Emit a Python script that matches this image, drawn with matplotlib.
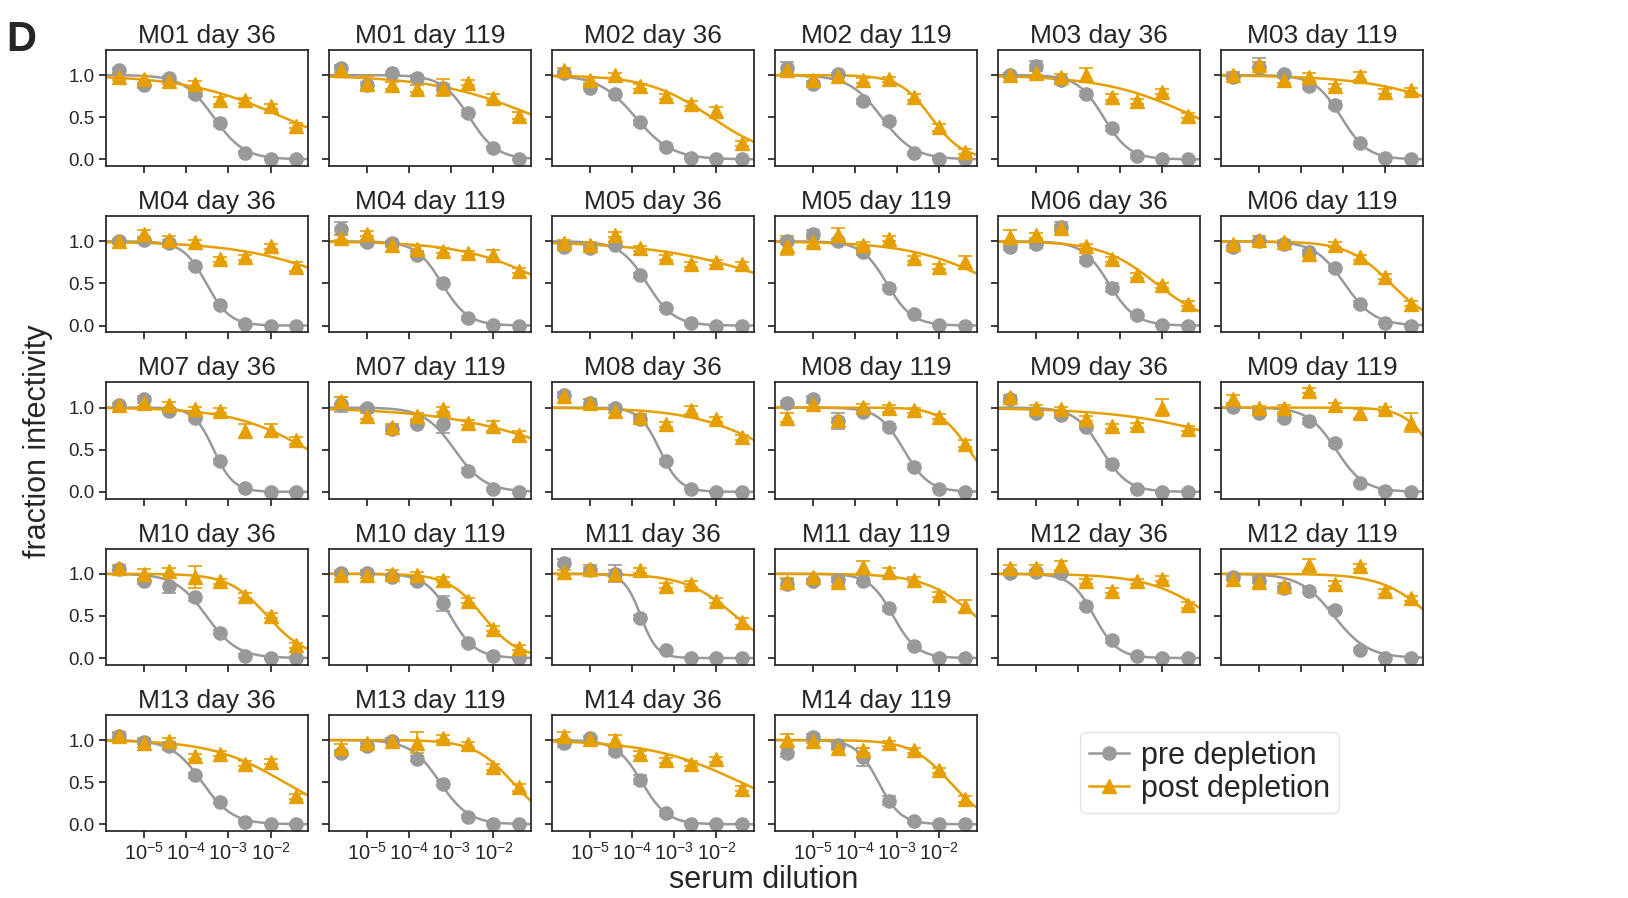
import numpy as np
import matplotlib
matplotlib.use('Agg')
import matplotlib.pyplot as plt
from matplotlib.ticker import FixedLocator, NullLocator, FormatStrFormatter

plt.rcParams['font.family'] = ['Liberation Sans', 'DejaVu Sans']
plt.rcParams['mathtext.fontset'] = 'custom'
plt.rcParams['mathtext.rm'] = 'Liberation Sans'
plt.rcParams['axes.edgecolor'] = '#262626'
plt.rcParams['axes.linewidth'] = 1.25
plt.rcParams['xtick.color'] = '#262626'
plt.rcParams['ytick.color'] = '#262626'
plt.rcParams['text.color'] = '#262626'
plt.rcParams['axes.labelcolor'] = '#262626'

# serum dilutions: 4-fold series starting at 1/25
dilutions = [1 / 409600, 1 / 102400, 1 / 25600, 1 / 6400, 1 / 1600, 1 / 400, 1 / 100, 1 / 25]
mice = ['M01', 'M02', 'M03', 'M04', 'M05', 'M06', 'M07',
        'M08', 'M09', 'M10', 'M11', 'M12', 'M13', 'M14']
days = [36, 119]

# fraction infectivity, one row per panel (M01 d36, M01 d119, M02 d36, ...)
pre = [
    [1.06, 0.88, 0.96, 0.77, 0.43, 0.08, 0.00, 0.00],
    [1.09, 0.88, 1.02, 0.97, 0.85, 0.55, 0.14, 0.00],
    [1.02, 0.85, 0.78, 0.44, 0.15, 0.02, 0.01, 0.00],
    [1.09, 0.90, 1.01, 0.69, 0.45, 0.07, 0.01, 0.00],
    [1.00, 1.11, 0.94, 0.78, 0.37, 0.04, 0.01, 0.00],
    [0.98, 1.10, 1.01, 0.87, 0.65, 0.19, 0.02, 0.00],
    [1.00, 1.02, 0.98, 0.71, 0.25, 0.02, 0.00, 0.00],
    [1.15, 0.99, 0.98, 0.84, 0.51, 0.09, 0.01, 0.00],
    [0.93, 0.92, 0.96, 0.60, 0.21, 0.03, 0.00, 0.00],
    [1.00, 1.09, 1.00, 0.87, 0.45, 0.14, 0.01, 0.00],
    [0.93, 0.97, 1.17, 0.78, 0.45, 0.12, 0.01, 0.00],
    [0.93, 1.00, 0.97, 0.87, 0.68, 0.26, 0.03, 0.00],
    [1.03, 1.10, 0.96, 0.88, 0.36, 0.04, 0.00, 0.00],
    [1.04, 0.99, 0.75, 0.81, 0.80, 0.25, 0.03, 0.00],
    [1.15, 1.06, 1.00, 0.86, 0.36, 0.03, 0.00, 0.00],
    [1.05, 1.10, 0.84, 0.95, 0.77, 0.30, 0.03, 0.00],
    [1.10, 0.93, 0.91, 0.77, 0.33, 0.03, 0.00, 0.00],
    [1.01, 0.94, 0.88, 0.84, 0.58, 0.10, 0.01, 0.00],
    [1.06, 0.91, 0.86, 0.72, 0.30, 0.03, 0.00, 0.00],
    [1.01, 1.01, 0.96, 0.91, 0.65, 0.18, 0.03, 0.00],
    [1.13, 1.04, 1.00, 0.48, 0.09, 0.00, 0.00, 0.00],
    [0.88, 0.91, 0.93, 0.92, 0.59, 0.14, 0.00, 0.00],
    [1.01, 1.02, 1.01, 0.62, 0.21, 0.03, 0.00, 0.00],
    [0.96, 0.92, 0.83, 0.80, 0.57, 0.10, 0.00, 0.00],
    [1.05, 0.98, 0.93, 0.58, 0.27, 0.03, 0.00, 0.00],
    [0.85, 0.93, 0.99, 0.78, 0.48, 0.09, 0.00, 0.00],
    [0.96, 1.02, 0.87, 0.53, 0.13, 0.00, 0.00, 0.00],
    [0.85, 1.04, 0.94, 0.80, 0.28, 0.04, 0.00, 0.00],
]
post = [
    [0.98, 0.95, 0.93, 0.89, 0.70, 0.70, 0.63, 0.40],
    [1.06, 0.90, 0.88, 0.84, 0.85, 0.91, 0.73, 0.52],
    [1.06, 0.94, 1.00, 0.87, 0.75, 0.66, 0.57, 0.19],
    [1.06, 0.94, 0.99, 0.94, 0.95, 0.74, 0.38, 0.09],
    [1.00, 1.03, 0.98, 1.00, 0.74, 0.69, 0.80, 0.52],
    [1.00, 1.12, 0.94, 0.98, 0.87, 0.99, 0.80, 0.82],
    [1.00, 1.09, 1.01, 0.99, 0.79, 0.81, 0.94, 0.70],
    [1.04, 1.09, 0.96, 0.91, 0.89, 0.86, 0.84, 0.65],
    [0.98, 0.96, 1.08, 0.92, 0.81, 0.73, 0.75, 0.73],
    [0.95, 0.99, 1.07, 0.96, 1.03, 0.80, 0.70, 0.75],
    [1.05, 1.07, 1.16, 0.94, 0.79, 0.60, 0.48, 0.26],
    [0.97, 1.01, 0.99, 0.85, 0.96, 0.81, 0.58, 0.26],
    [1.03, 1.06, 1.03, 0.98, 0.96, 0.72, 0.73, 0.61],
    [1.08, 0.90, 0.77, 0.90, 0.98, 0.82, 0.78, 0.67],
    [1.14, 1.06, 0.96, 0.89, 0.80, 0.97, 0.86, 0.65],
    [0.88, 1.04, 0.85, 1.01, 0.99, 0.97, 0.89, 0.57],
    [1.12, 1.00, 0.98, 0.87, 0.78, 0.79, 1.00, 0.75],
    [1.10, 0.99, 0.99, 1.20, 1.03, 0.93, 0.98, 0.82],
    [1.07, 1.00, 1.03, 0.96, 0.91, 0.74, 0.50, 0.15],
    [0.98, 0.99, 1.00, 0.98, 0.93, 0.68, 0.35, 0.12],
    [1.02, 1.06, 1.00, 1.04, 0.86, 0.88, 0.68, 0.43],
    [0.90, 0.96, 0.90, 1.08, 1.02, 0.93, 0.75, 0.62],
    [1.07, 1.07, 1.10, 0.91, 0.80, 0.91, 0.94, 0.63],
    [0.94, 0.90, 0.86, 1.10, 0.88, 1.09, 0.79, 0.71],
    [1.05, 0.97, 0.99, 0.81, 0.84, 0.72, 0.74, 0.33],
    [0.91, 0.96, 0.99, 0.97, 1.03, 0.95, 0.68, 0.44],
    [1.05, 1.01, 1.00, 0.84, 0.76, 0.72, 0.77, 0.42],
    [1.00, 0.99, 0.91, 0.88, 0.96, 0.88, 0.64, 0.30],
]
# standard errors
pre_err = [
    [0.03, 0.03, 0.03, 0.03, 0.03, 0.02, 0.01, 0.01],
    [0.03, 0.04, 0.02, 0.03, 0.04, 0.03, 0.02, 0.01],
    [0.03, 0.03, 0.03, 0.03, 0.03, 0.02, 0.01, 0.01],
    [0.06, 0.03, 0.02, 0.03, 0.04, 0.02, 0.01, 0.01],
    [0.03, 0.06, 0.03, 0.03, 0.03, 0.02, 0.01, 0.01],
    [0.03, 0.10, 0.02, 0.03, 0.04, 0.02, 0.01, 0.01],
    [0.02, 0.03, 0.03, 0.03, 0.02, 0.01, 0.01, 0.01],
    [0.08, 0.03, 0.02, 0.03, 0.03, 0.02, 0.01, 0.01],
    [0.03, 0.03, 0.03, 0.03, 0.02, 0.01, 0.01, 0.01],
    [0.03, 0.04, 0.03, 0.03, 0.03, 0.02, 0.01, 0.01],
    [0.03, 0.05, 0.06, 0.03, 0.05, 0.02, 0.01, 0.01],
    [0.03, 0.02, 0.03, 0.03, 0.03, 0.03, 0.01, 0.01],
    [0.03, 0.04, 0.03, 0.03, 0.03, 0.02, 0.01, 0.01],
    [0.09, 0.03, 0.03, 0.03, 0.10, 0.03, 0.01, 0.01],
    [0.03, 0.04, 0.03, 0.04, 0.03, 0.01, 0.01, 0.01],
    [0.03, 0.04, 0.09, 0.03, 0.03, 0.03, 0.01, 0.01],
    [0.03, 0.03, 0.03, 0.03, 0.03, 0.01, 0.01, 0.01],
    [0.03, 0.03, 0.04, 0.04, 0.04, 0.02, 0.01, 0.01],
    [0.03, 0.03, 0.09, 0.04, 0.03, 0.02, 0.01, 0.01],
    [0.03, 0.03, 0.03, 0.03, 0.09, 0.02, 0.01, 0.01],
    [0.04, 0.03, 0.10, 0.03, 0.02, 0.01, 0.01, 0.01],
    [0.06, 0.03, 0.03, 0.03, 0.03, 0.02, 0.01, 0.01],
    [0.03, 0.03, 0.03, 0.03, 0.03, 0.02, 0.01, 0.01],
    [0.03, 0.03, 0.03, 0.03, 0.04, 0.02, 0.01, 0.01],
    [0.03, 0.03, 0.05, 0.03, 0.03, 0.02, 0.01, 0.01],
    [0.03, 0.03, 0.03, 0.03, 0.03, 0.02, 0.01, 0.01],
    [0.04, 0.03, 0.03, 0.05, 0.03, 0.01, 0.01, 0.01],
    [0.05, 0.03, 0.03, 0.11, 0.05, 0.02, 0.01, 0.01],
]
post_err = [
    [0.04, 0.04, 0.04, 0.04, 0.04, 0.03, 0.03, 0.03],
    [0.04, 0.09, 0.04, 0.04, 0.10, 0.03, 0.04, 0.04],
    [0.03, 0.03, 0.03, 0.03, 0.03, 0.03, 0.05, 0.03],
    [0.03, 0.04, 0.03, 0.03, 0.03, 0.03, 0.04, 0.03],
    [0.03, 0.03, 0.03, 0.08, 0.03, 0.03, 0.03, 0.03],
    [0.04, 0.04, 0.03, 0.05, 0.03, 0.05, 0.03, 0.03],
    [0.03, 0.05, 0.05, 0.03, 0.03, 0.03, 0.03, 0.05],
    [0.03, 0.03, 0.03, 0.03, 0.03, 0.03, 0.06, 0.03],
    [0.03, 0.03, 0.03, 0.03, 0.03, 0.03, 0.03, 0.03],
    [0.11, 0.04, 0.09, 0.03, 0.03, 0.03, 0.03, 0.08],
    [0.08, 0.03, 0.03, 0.03, 0.03, 0.03, 0.03, 0.03],
    [0.03, 0.05, 0.03, 0.03, 0.03, 0.03, 0.03, 0.03],
    [0.03, 0.04, 0.04, 0.03, 0.03, 0.08, 0.08, 0.04],
    [0.04, 0.04, 0.03, 0.04, 0.03, 0.03, 0.06, 0.05],
    [0.03, 0.04, 0.03, 0.03, 0.03, 0.05, 0.03, 0.03],
    [0.05, 0.03, 0.03, 0.03, 0.04, 0.03, 0.03, 0.04],
    [0.03, 0.03, 0.03, 0.03, 0.03, 0.03, 0.10, 0.03],
    [0.05, 0.03, 0.04, 0.03, 0.03, 0.05, 0.03, 0.11],
    [0.03, 0.06, 0.04, 0.13, 0.03, 0.03, 0.03, 0.03],
    [0.04, 0.04, 0.04, 0.04, 0.03, 0.03, 0.03, 0.03],
    [0.03, 0.04, 0.04, 0.03, 0.03, 0.04, 0.03, 0.04],
    [0.05, 0.04, 0.05, 0.07, 0.05, 0.03, 0.03, 0.07],
    [0.04, 0.04, 0.05, 0.03, 0.03, 0.03, 0.03, 0.04],
    [0.03, 0.06, 0.03, 0.07, 0.03, 0.03, 0.03, 0.03],
    [0.04, 0.05, 0.03, 0.03, 0.03, 0.03, 0.03, 0.03],
    [0.04, 0.04, 0.03, 0.12, 0.03, 0.03, 0.03, 0.04],
    [0.04, 0.03, 0.06, 0.03, 0.03, 0.03, 0.03, 0.03],
    [0.07, 0.03, 0.03, 0.03, 0.03, 0.03, 0.03, 0.03],
]

gray = '#999999'
orange = '#E69F00'
xlim = (10 ** -5.91, 10 ** -1.11)


def hill_fit(c, f):
    """least squares Hill curve with top 1, bottom 0"""
    logc = np.log10(c)
    logm = np.linspace(-7, 1, 321)
    slope = np.linspace(0.3, 4.0, 149)
    LM, S = np.meshgrid(logm, slope, indexing='ij')
    pred = 1 / (1 + 10 ** (S[..., None] * (logc - LM[..., None])))
    sse = ((pred - np.asarray(f)) ** 2).sum(-1)
    i, j = np.unravel_index(sse.argmin(), sse.shape)
    return logm[i], slope[j]


def hill(c, logm, s):
    return 1 / (1 + 10 ** (s * (np.log10(c) - logm)))


fig, axes = plt.subplots(5, 6, sharex=True, sharey=True, figsize=(16.28, 8.98), dpi=100)
fig.subplots_adjust(left=0.0651, right=0.874, top=0.9445, bottom=0.0746, wspace=0.104, hspace=0.43)

xs = np.logspace(np.log10(xlim[0]), np.log10(xlim[1]), 300)
titles = [f'{m} day {d}' for m in mice for d in days]
handles = []
for k, title in enumerate(titles):
    ax = axes.flat[k]
    for vals, errs, color, marker, label in [(pre[k], pre_err[k], gray, 'o', 'pre depletion'),
                                            (post[k], post_err[k], orange, '^', 'post depletion')]:
        logm, s = hill_fit(dilutions, vals)
        ax.plot(xs, hill(xs, logm, s), color=color, lw=1.8)
        ax.errorbar(dilutions, vals, yerr=errs, fmt=marker, color=color, ms=9.5,
                    capsize=5, elinewidth=1.2, capthick=1.2)
        if k == 0:
            handles.append(plt.Line2D([], [], color=color, marker=marker, ms=9.5, lw=1.8, label=label))
    ax.set_title(title, fontsize=19, pad=5)

for ax in axes.flat[len(titles):]:
    ax.remove()

for ax in axes.flat[:len(titles)]:
    ax.set_xscale('log')
    ax.set_xlim(xlim)
    ax.set_ylim(-0.08, 1.3)
    ax.xaxis.set_major_locator(FixedLocator([1e-5, 1e-4, 1e-3, 1e-2]))
    ax.xaxis.set_minor_locator(NullLocator())
    ax.yaxis.set_major_locator(FixedLocator([0.0, 0.5, 1.0]))
    ax.yaxis.set_major_formatter(FormatStrFormatter('%.1f'))
    ax.tick_params(labelsize=13.5, length=5, width=1.25, pad=3)
    ax.tick_params(axis='x', labelsize=14.5)

# bottom row labels for the panels above the empty slots stay hidden, as in the original
for ax in axes[4, :4]:
    ax.xaxis.set_tick_params(labelbottom=True)

fig.text(0.0235, 0.509, 'fraction infectivity', rotation=90, ha='center', va='center', fontsize=22)
fig.text(0.469, 0.02, 'serum dilution', ha='center', va='center', fontsize=22)
fig.text(0.004, 0.955, 'D', fontsize=30, fontweight='bold', ha='left', va='center')

fig.legend(handles=handles, loc='center', bbox_to_anchor=(0.743, 0.14), fontsize=22,
           handlelength=1.3, handletextpad=0.4, borderpad=0.3, labelspacing=0.1,
           frameon=True, edgecolor='#dddddd', fancybox=True)

fig.savefig('out.png', dpi=100)
